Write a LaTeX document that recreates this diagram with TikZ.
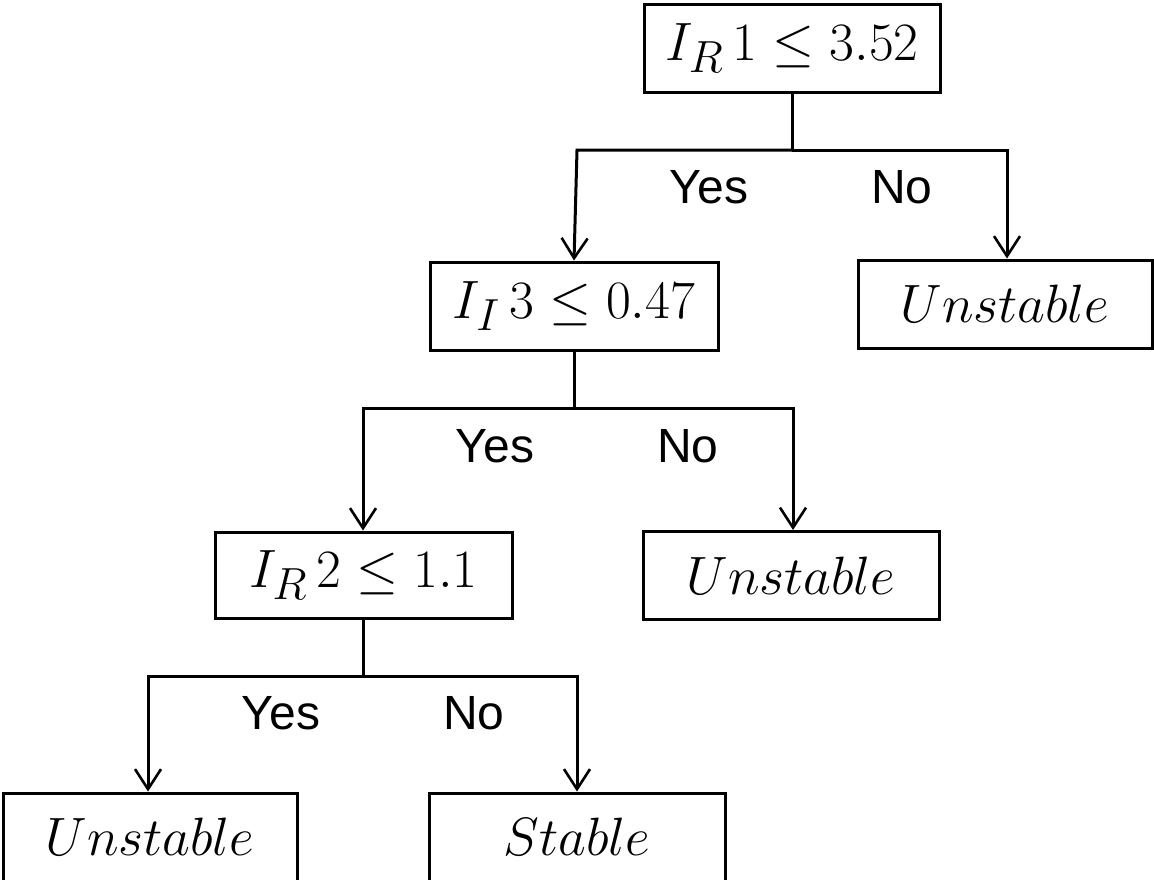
\documentclass[tikz,border=0pt]{standalone}
\usepackage{fontspec}
\newfontfamily\labelfont{Liberation Sans}
\usetikzlibrary{arrows.meta}
% box text: math set at the largest design size, then enlarged slightly
\newcommand\boxmath[1]{\scalebox{1.085}{$#1$}}

\begin{document}
\begin{tikzpicture}[x=0.5pt,y=-0.5pt,
  box/.style={draw, line width=1.5pt, rectangle, inner sep=0pt,
    minimum height=44pt, font=\fontsize{24.88}{30}\selectfont},
  link/.style={line width=1.5pt},
  arr/.style={line width=1.5pt, -{Straight Barb[length=10pt,width=13pt,line width=1.3pt]}},
  lab/.style={font=\labelfont\fontsize{24}{28}\selectfont, inner sep=0pt}
]
\useasboundingbox (0,0) rectangle (1154,879);
\clip (0,0) rectangle (1154,879);

% decision and leaf boxes
\node[box, minimum width=148pt] (top)  at (792,48)    {\boxmath{I_R\,1 \leq 3.52}};
\node[box, minimum width=147pt] (unsR) at (1005,304)  {\boxmath{Unstable}};
\node[box, minimum width=144pt] (c2)   at (574,306)   {\boxmath{I_I\,3 \leq 0.47}};
\node[box, minimum width=148pt] (unsM) at (791,575.5) {\boxmath{Unstable}};
\node[box, minimum width=148.5pt, minimum height=43pt] (c3) at (363.5,575) {\boxmath{I_R\,2 \leq 1.1}};
\node[box, minimum width=147pt] (unsL) at (150,837)   {\boxmath{Unstable}};
\node[box, minimum width=148pt] (stab) at (577,837)   {\boxmath{Stable}};

% branch points
\coordinate (b1)  at (792,150);
\coordinate (b1l) at (577,150);
\coordinate (b1r) at (1007,150);
\coordinate (b2)  at (574,408);
\coordinate (b2l) at (363,408);
\coordinate (b2r) at (793,408);
\coordinate (b3)  at (363.5,676);
\coordinate (b3l) at (148,676);
\coordinate (b3r) at (577,676);

% first split
\draw[link] (top.south) -- (b1);
\draw[arr] (b1) -- (b1l) -- (c2.north);
\draw[arr] (b1) -- (b1r) -- (b1r |- unsR.north);

% second split
\draw[link] (c2.south) -- (b2);
\draw[arr] (b2) -- (b2l) -- (b2l |- c3.north);
\draw[arr] (b2) -- (b2r) -- (b2r |- unsM.north);

% third split
\draw[link] (c3.south) -- (b3);
\draw[arr] (b3) -- (b3l) -- (b3l |- unsL.north);
\draw[arr] (b3) -- (b3r) -- (b3r |- stab.north);

% branch labels
\node[lab] (y1) at (709,187) {Yes};
\node[lab] (n1) at (902,187) {No};
\node[lab] (y2) at (495,446) {Yes};
\node[lab] (n2) at (688,446) {No};
\node[lab] (y3) at (281,713) {Yes};
\node[lab] (n3) at (474,713) {No};
\end{tikzpicture}
\end{document}
